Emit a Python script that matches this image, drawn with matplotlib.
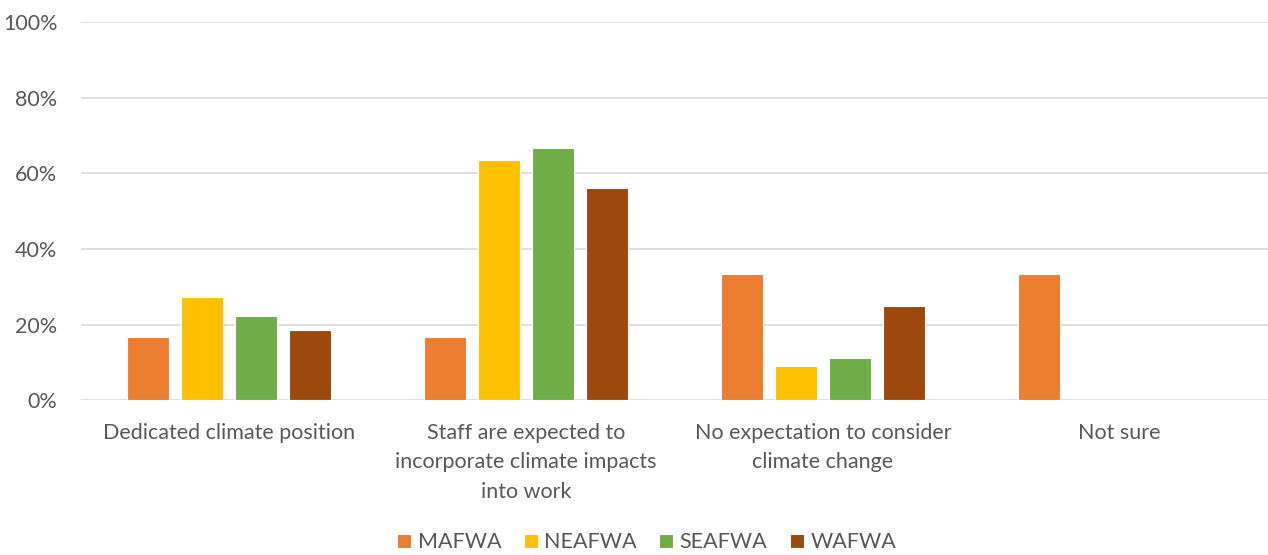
import numpy as np
import matplotlib.pyplot as plt
from matplotlib.ticker import PercentFormatter

plt.rcParams['font.family'] = ['Lato', 'DejaVu Sans']

categories = ["Dedicated climate position",
              "Staff are expected to\nincorporate climate impacts\ninto work",
              "No expectation to consider\nclimate change",
              "Not sure"]
series = ["MAFWA", "NEAFWA", "SEAFWA", "WAFWA"]
mafwa = [16.7, 16.7, 33.3, 33.3]
neafwa = [27.3, 63.6, 9.1, 0]
seafwa = [22.2, 66.7, 11.1, 0]
wafwa = [18.75, 56.25, 25.0, 0]
colors = ["#ED7D31", "#FFC000", "#70AD47", "#9E480E"]

values = [mafwa, neafwa, seafwa, wafwa]
text_color = "#595959"
fs = 15.5

fig = plt.figure(figsize=(12.68, 5.55), dpi=100)
ax = fig.add_axes([0.0639, 0.2784, 0.9361, 0.682])

x = np.arange(len(categories))
width = 0.1415
step = 0.182
for i, (name, vals) in enumerate(zip(series, values)):
    ax.bar(x + (i - 1.5) * step, vals, width, color=colors[i], label=name,
           edgecolor="white", linewidth=0.8, zorder=3)

ax.set_xlim(-0.5, len(categories) - 0.5)
ax.set_ylim(0, 100)
ax.set_yticks(np.arange(0, 101, 20))
ax.yaxis.set_major_formatter(PercentFormatter(decimals=0))
ax.grid(axis="y", color="#D9D9D9", linewidth=1.2, zorder=0)
ax.set_xticks(x)
ax.set_xticklabels(categories, linespacing=1.6)
ax.tick_params(axis="both", length=0, labelsize=fs, labelcolor=text_color)
ax.tick_params(axis="x", pad=16)
ax.tick_params(axis="y", pad=17)
for s in ax.spines.values():
    s.set_visible(False)

fig.legend(loc="lower center", bbox_to_anchor=(0.51, -0.03), ncol=4, frameon=False,
           fontsize=fs, labelcolor=text_color, handlelength=0.65, handleheight=0.65,
           handletextpad=0.3, columnspacing=1.05)

fig.savefig("out.png", dpi=100)
